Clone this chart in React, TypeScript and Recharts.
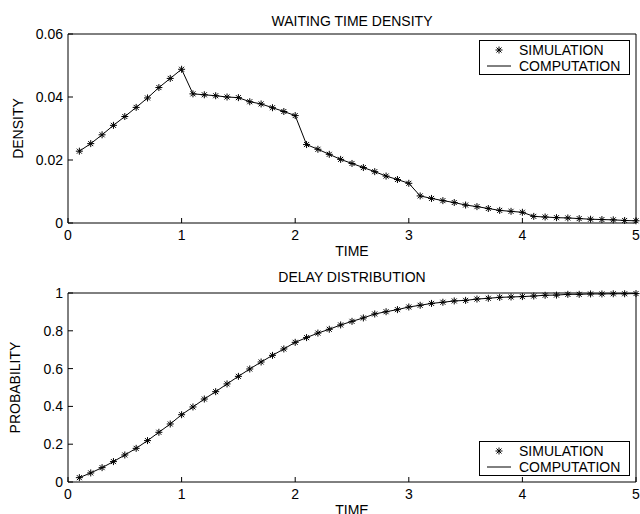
import { LineChart, Line, XAxis, YAxis, Legend } from 'recharts';

// x positions of the samples (TIME)
const time = [
  0.1, 0.2, 0.3, 0.4, 0.5, 0.6, 0.7, 0.8, 0.9, 1.0,
  1.1, 1.2, 1.3, 1.4, 1.5, 1.6, 1.7, 1.8, 1.9, 2.0,
  2.1, 2.2, 2.3, 2.4, 2.5, 2.6, 2.7, 2.8, 2.9, 3.0,
  3.1, 3.2, 3.3, 3.4, 3.5, 3.6, 3.7, 3.8, 3.9, 4.0,
  4.1, 4.2, 4.3, 4.4, 4.5, 4.6, 4.7, 4.8, 4.9, 5.0,
];

// waiting time density (simulation and computation coincide)
const density = [
  0.0228, 0.0252, 0.0280, 0.0310, 0.0338, 0.0367, 0.0397, 0.0430, 0.0459, 0.0488,
  0.0410, 0.0407, 0.0404, 0.0400, 0.0398, 0.0385, 0.0378, 0.0366, 0.0354, 0.0341,
  0.0249, 0.0234, 0.0218, 0.0202, 0.0189, 0.0176, 0.0163, 0.0149, 0.0138, 0.0126,
  0.0086, 0.0078, 0.0071, 0.0065, 0.0057, 0.0052, 0.0046, 0.0040, 0.0037, 0.0034,
  0.0021, 0.0019, 0.0017, 0.0016, 0.0014, 0.0012, 0.0011, 0.0010, 0.0008, 0.0007,
];

// delay distribution
const probability = [
  0.023, 0.048, 0.076, 0.108, 0.143, 0.178, 0.219, 0.263, 0.307, 0.356,
  0.397, 0.439, 0.478, 0.519, 0.559, 0.598, 0.635, 0.670, 0.704, 0.739,
  0.764, 0.788, 0.808, 0.831, 0.850, 0.868, 0.889, 0.901, 0.912, 0.926,
  0.935, 0.945, 0.951, 0.958, 0.961, 0.968, 0.972, 0.977, 0.979, 0.981,
  0.984, 0.988, 0.989, 0.993, 0.993, 0.995, 0.995, 0.996, 0.996, 0.997,
];

const timeTicks = [0, 1, 2, 3, 4, 5];
const densityTicks = [0, 0.02, 0.04, 0.06];
const probabilityTicks = [0, 0.2, 0.4, 0.6, 0.8, 1];

const FONT = '"Liberation Sans", Arial, Helvetica, sans-serif';
const TICK = { fill: '#000', fontSize: 14, fontFamily: FONT };

const Star = (props: any) => {
  const { cx, cy } = props;
  if (cx == null || cy == null) return null;
  const r = 3.5;
  const d = 2.5;
  return (
    <g stroke="#000" strokeWidth={1}>
      <line x1={cx - r} y1={cy} x2={cx + r} y2={cy} />
      <line x1={cx} y1={cy - r} x2={cx} y2={cy + r} />
      <line x1={cx - d} y1={cy - d} x2={cx + d} y2={cy + d} />
      <line x1={cx - d} y1={cy + d} x2={cx + d} y2={cy - d} />
    </g>
  );
};

const LegendBox = ({ payload }: any) => {
  const nameOf = (key: string) => {
    const item = (payload || []).find((p: any) => p.dataKey === key);
    return item ? item.value : '';
  };
  return (
    <div style={{ width: 151, height: 35, boxSizing: 'border-box', border: '1.5px solid #000', background: '#fff' }}>
      <svg width={148} height={32} style={{ display: 'block' }}>
        <Star cx={19} cy={9} />
        <line x1={7} y1={25} x2={31} y2={25} stroke="#000" />
        <text x={39} y={14} fontSize={14} fontFamily={FONT} fill="#000">{nameOf('sim')}</text>
        <text x={39} y={30} fontSize={14} fontFamily={FONT} fill="#000">{nameOf('comp')}</text>
      </svg>
    </div>
  );
};

interface PanelProps {
  values: number[];
  title: string;
  yLabel: string;
  yMax: number;
  yTicks: number[];
  top: number;
  titleOffset: number;
  yLabelOffset: number;
  legendTop: number;
}

function Panel({ values, title, yLabel, yMax, yTicks, top, titleOffset, yLabelOffset, legendTop }: PanelProps) {
  const data = time.map((t, i) => ({ time: t, sim: values[i], comp: values[i] }));
  return (
    <LineChart
      width={640}
      height={257}
      data={data}
      margin={{ top: top - 1, right: 3, bottom: 257 - top - 189 - 23, left: 8 }}
    >
      <XAxis
        dataKey="time"
        type="number"
        domain={[0, 5]}
        ticks={timeTicks}
        height={23}
        stroke="#000"
        tick={TICK}
        tickSize={-5}
        tickMargin={12}
        label={{ value: 'TIME', position: 'bottom', offset: 0, fill: '#000', fontSize: 14, fontFamily: FONT }}
      />
      <XAxis
        xAxisId="top"
        dataKey="time"
        orientation="top"
        type="number"
        domain={[0, 5]}
        ticks={timeTicks}
        height={1}
        stroke="#000"
        tick={false}
        tickSize={-5}
        label={{ value: title, position: 'top', offset: titleOffset - 1, fill: '#000', fontSize: 14, fontFamily: FONT }}
      />
      <YAxis
        type="number"
        domain={[0, yMax]}
        ticks={yTicks}
        width={60}
        stroke="#000"
        tick={TICK}
        tickSize={-5}
        tickMargin={10}
        label={{
          value: yLabel,
          angle: -90,
          position: 'insideLeft',
          offset: yLabelOffset,
          fill: '#000',
          fontSize: 14,
          fontFamily: FONT,
          style: { textAnchor: 'middle' },
        }}
      />
      <YAxis
        yAxisId="right"
        orientation="right"
        type="number"
        domain={[0, yMax]}
        ticks={yTicks}
        width={1}
        stroke="#000"
        tick={false}
        tickSize={-5}
      />
      <Legend
        layout="horizontal"
        verticalAlign="middle"
        content={<LegendBox />}
        wrapperStyle={{ top: legendTop, left: 479, width: 151, height: 35 }}
      />
      <Line
        name="SIMULATION"
        dataKey="sim"
        stroke="none"
        dot={(p: any) => <Star key={`s-${p.index}`} {...p} />}
        activeDot={false}
        legendType="star"
        isAnimationActive={false}
      />
      <Line
        name="COMPUTATION"
        dataKey="comp"
        xAxisId="top"
        yAxisId="right"
        type="linear"
        stroke="#000"
        strokeWidth={1}
        dot={false}
        activeDot={false}
        legendType="line"
        isAnimationActive={false}
      />
    </LineChart>
  );
}

export default function App() {
  return (
    <div style={{ position: 'absolute', left: 0, top: 0, width: 640, height: 514, background: '#fff' }}>
      <Panel
        values={density}
        title="WAITING TIME DENSITY"
        yLabel="DENSITY"
        yMax={0.06}
        yTicks={densityTicks}
        top={34}
        titleOffset={8}
        yLabelOffset={10.5}
        legendTop={40}
      />
      <Panel
        values={probability}
        title="DELAY DISTRIBUTION"
        yLabel="PROBABILITY"
        yMax={1}
        yTicks={probabilityTicks}
        top={36}
        titleOffset={11}
        yLabelOffset={7.5}
        legendTop={184}
      />
    </div>
  );
}
